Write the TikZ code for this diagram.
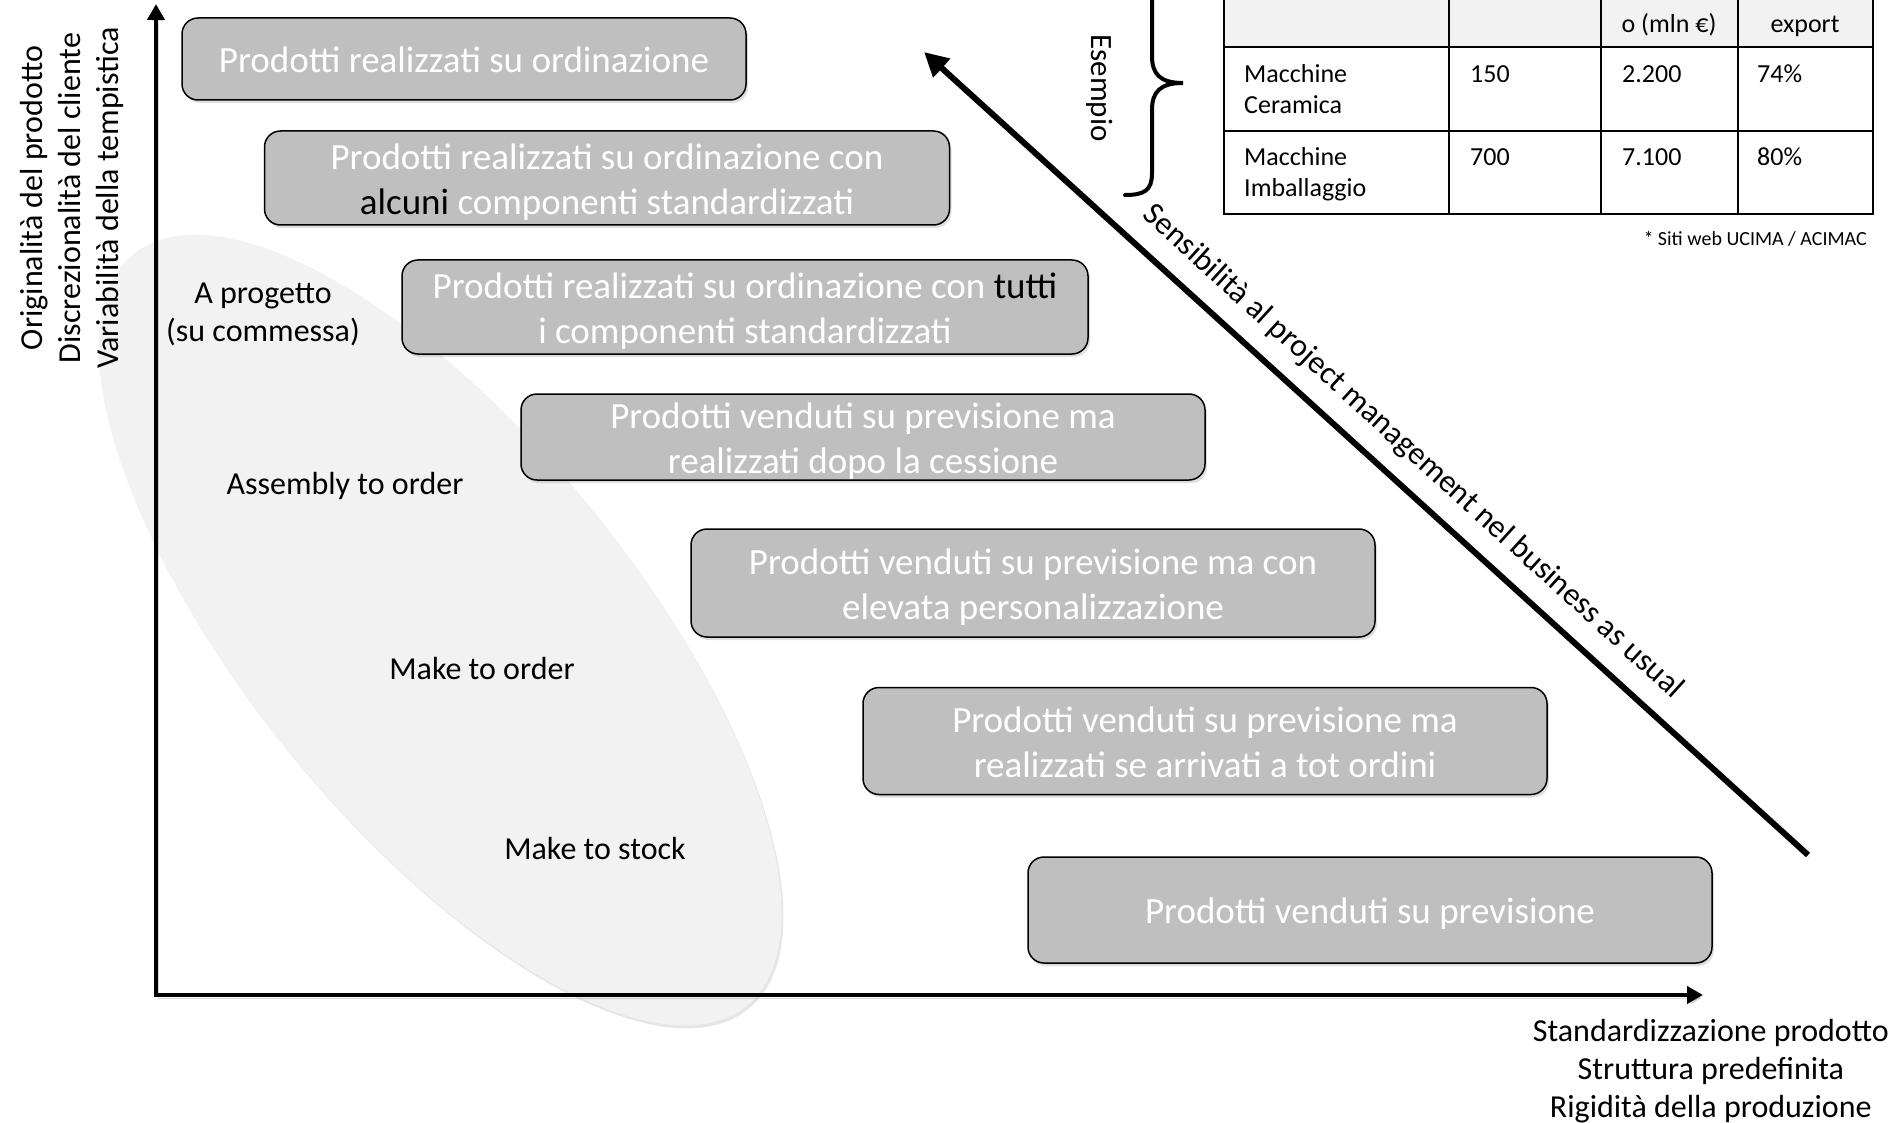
\documentclass[tikz,border=0pt]{standalone}
\usepackage{fontspec}
\setmainfont{Carlito}
\usetikzlibrary{arrows.meta,shadows}
\definecolor{boxgray}{RGB}{191,191,191}
\definecolor{ellgray}{RGB}{242,242,242}
\definecolor{hdrgray}{RGB}{242,242,242}
\begin{document}
\begin{tikzpicture}[x=1pt,y=-1pt,
  box/.style={draw=black, line width=1.5pt, fill=boxgray, rounded corners=16pt,
    inner sep=0pt,
    drop shadow={opacity=0.25, shadow xshift=2pt, shadow yshift=-3pt}},
  boxtext/.style={text=white, font=\fontsize{37}{45}\selectfont, align=center, inner sep=0pt, yshift=-4pt},
  lbl/.style={font=\fontsize{32}{38}\selectfont, align=center, inner sep=0pt},
  tcell/.style={font=\fontsize{26}{31}\selectfont, inner sep=0pt},
  tline/.style={line width=2pt, draw=black},
  lineshadow/.style={preaction={draw=black, opacity=0.15, transform canvas={xshift=2pt,yshift=-3pt}}},
  axisarrow/.style={line width=4pt, {Triangle[length=16pt,width=17pt]}-{Triangle[length=16pt,width=17pt]}},
  diagarrow/.style={line width=6pt, -{Triangle[length=24pt,width=24pt]}},
  bracestyle/.style={line width=4pt, line cap=round}
]
\useasboundingbox (0,0) rectangle (1895,1123);
\clip (0,0) rectangle (1895,1123);

% ellipse region
\path[fill=ellgray, drop shadow={opacity=0.2, shadow xshift=2pt, shadow yshift=-3pt},
  rotate around={-50.8:(440,630)}] (440,630) ellipse [x radius=485pt, y radius=194pt];

% axes
\coordinate (ytip) at (156,4);
\coordinate (origin) at (156,995);
\coordinate (xtip) at (1703,995);
\draw[axisarrow, lineshadow] (ytip) -- (origin) -- (xtip);

% axis labels
\node[lbl, rotate=90] (ylab) at (72,198) {Originalità del prodotto\\Discrezionalità del cliente\\Variabilità della tempistica};
\node[lbl, anchor=east, font=\fontsize{32}{38}\selectfont] (xlab) at (1889,1071) {Standardizzazione prodotto\\Struttura predefinita\\Rigidità della produzione};

% boxes
\node[box, minimum width=564pt, minimum height=82pt] (b1) at (464,59) {};
\node[box, minimum width=685pt, minimum height=94pt] (b2) at (607,178) {};
\node[box, minimum width=686pt, minimum height=94pt] (b3) at (745,307) {};
\node[box, minimum width=684pt, minimum height=86pt] (b4) at (863,437) {};
\node[box, minimum width=684pt, minimum height=108pt] (b5) at (1033,583) {};
\node[box, minimum width=684pt, minimum height=107pt] (b6) at (1205,741) {};
\node[box, minimum width=684pt, minimum height=106pt] (b7) at (1370,910) {};

\node[boxtext, yshift=3pt] (t1) at (b1.center) {Prodotti realizzati su ordinazione};
\node[boxtext] (t2) at (b2.center) {Prodotti realizzati su ordinazione con\\{\color{black}alcuni} componenti standardizzati};
\node[boxtext] (t3) at (b3.center) {Prodotti realizzati su ordinazione con {\color{black}tutti}\\i componenti standardizzati};
\node[boxtext] (t4) at (b4.center) {Prodotti venduti su previsione ma\\realizzati dopo la cessione};
\node[boxtext] (t5) at (b5.center) {Prodotti venduti su previsione ma con\\elevata personalizzazione};
\node[boxtext, yshift=3pt] (t6) at (b6.center) {Prodotti venduti su previsione ma\\realizzati se arrivati a tot ordini};
\node[boxtext] (t7) at (b7.center) {Prodotti venduti su previsione};

% ellipse labels
\node[lbl] (ap) at (263,314) {A progetto\\(su commessa)};
\node[lbl] (ato) at (345,486) {Assembly to order};
\node[lbl] (mto) at (482,669) {Make to order};
\node[lbl] (mts) at (595,849) {Make to stock};

% diagonal arrow
\coordinate (dEnd) at (1808,855);
\coordinate (dTip) at (924,52);
\draw[diagarrow, lineshadow] (dEnd) -- (dTip);
\node[lbl, rotate=-42.25] (sens) at (1413,452) {Sensibilità al project management nel business as usual};

% brace
\draw[bracestyle] (1125,195) .. controls (1145,195) and (1152,190) .. (1152,173) -- (1152,110)
  .. controls (1152,92) and (1160,83) .. (1183,83)
  .. controls (1160,83) and (1152,74) .. (1152,56) -- (1152,-7)
  .. controls (1152,-24) and (1145,-29) .. (1125,-29);
\node[lbl, rotate=-90, font=\fontsize{31}{38}\selectfont] (es) at (1100,88) {Esempio};

% table
\fill[hdrgray] (1224,-60) rectangle (1873,47);
\draw[tline] (1224,-60) -- (1224,214) -- (1873,214) -- (1873,-60);
\draw[tline] (1224,47) -- (1873,47);
\draw[tline] (1224,131) -- (1873,131);
\draw[tline] (1449,-60) -- (1449,214);
\draw[tline] (1601,-60) -- (1601,214);
\draw[tline] (1738,-60) -- (1738,214);

\node[tcell, anchor=base] (h3) at (1669,33) {o (mln €)};
\node[tcell, anchor=base] (h4) at (1805,33) {export};

\node[tcell, anchor=base west] (r1a) at (1244,83) {Macchine};
\node[tcell, anchor=base west] (r1b) at (1244,114) {Ceramica};
\node[tcell, anchor=base west] (r1c) at (1470,83) {150};
\node[tcell, anchor=base west] (r1d) at (1622,83) {2.200};
\node[tcell, anchor=base west] (r1e) at (1757,83) {74\%};

\node[tcell, anchor=base west] (r2a) at (1244,166) {Macchine};
\node[tcell, anchor=base west] (r2b) at (1244,197) {Imballaggio};
\node[tcell, anchor=base west] (r2c) at (1470,166) {700};
\node[tcell, anchor=base west] (r2d) at (1622,166) {7.100};
\node[tcell, anchor=base west] (r2e) at (1757,166) {80\%};

\node[tcell, anchor=base east, font=\fontsize{20}{24}\selectfont] (fn) at (1867,246) {* Siti web UCIMA / ACIMAC};
\end{tikzpicture}
\end{document}
